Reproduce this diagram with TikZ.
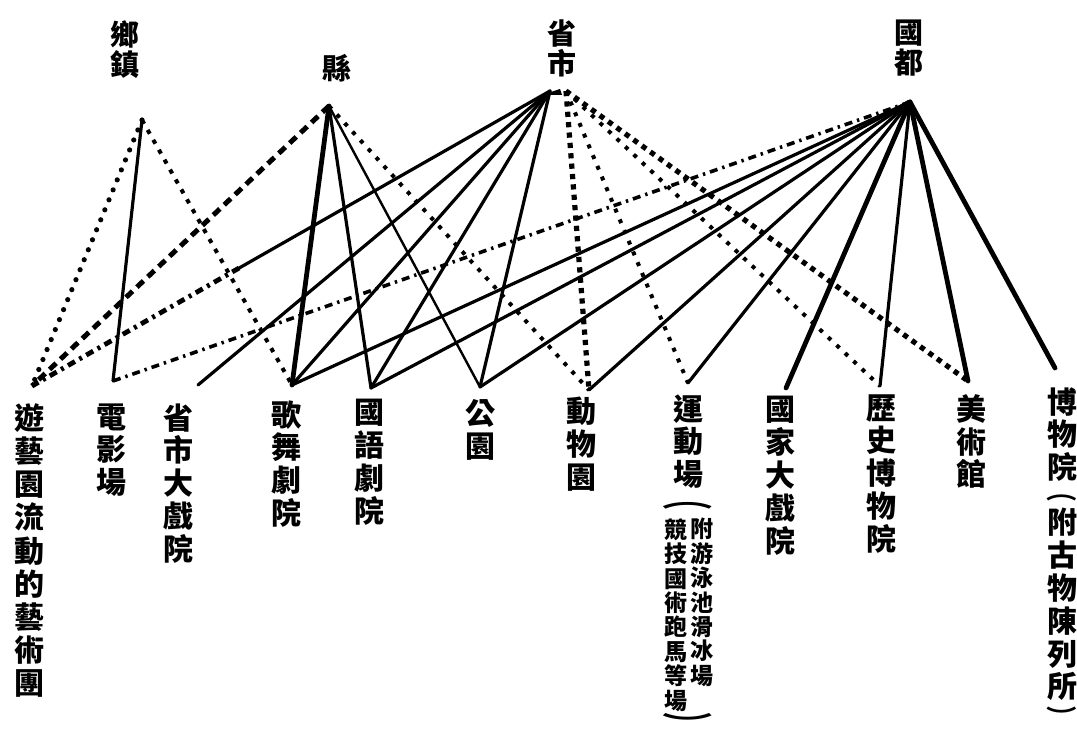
\documentclass[tikz,border=0pt]{standalone}
\usepackage{fontspec}
\newfontfamily\cjk{Noto Sans CJK TC}
\usetikzlibrary{calc}
\tikzset{
  toplbl/.style={font=\cjk\bfseries\fontsize{14.5}{15}\selectfont, align=center, inner sep=0pt},
  lbl/.style={font=\cjk\bfseries\fontsize{15}{16.4}\selectfont, align=center, inner sep=0pt, anchor=north},
  sublbl/.style={font=\cjk\bfseries\fontsize{11.5}{12.2}\selectfont, align=center, inner sep=0pt, anchor=north},
  parlbl/.style={font=\cjk\bfseries\fontsize{9}{9}\selectfont, inner sep=0pt},
  solidln/.style={line width=1.6pt, line cap=round},
  thinln/.style={line width=1.2pt, line cap=round},
  heavyln/.style={line width=2.4pt, line cap=round},
  dotround/.style={line width=2.6pt, line cap=round, dash pattern=on 0pt off 5.4pt},
  dotshort/.style={line width=2.0pt, dash pattern=on 2.2pt off 3.5pt},
  dashheavy/.style={line width=2.5pt, dash pattern=on 4.5pt off 3pt},
  dotsq/.style={line width=2.6pt, dash pattern=on 2.6pt off 2.6pt},
  dotsm/.style={line width=2.0pt, dash pattern=on 2pt off 3.8pt},
  dashdotln/.style={line width=1.8pt, dash pattern=on 4pt off 2.5pt on 1.2pt off 2.5pt},
  dashdotheavy/.style={line width=2.4pt, dash pattern=on 4pt off 2.5pt on 1.5pt off 2.5pt},
}
\begin{document}
\begin{tikzpicture}[x=0.5pt,y=-0.5pt]
\useasboundingbox (0,0) rectangle (1077,732);

% top levels
\node[toplbl] (xz) at (125,50) {鄉\\鎮};
\node[toplbl] (xian) at (337,68) {縣};
\node[toplbl] (sheng) at (562,48) {省\\市};
\node[toplbl] (guo) at (909,48) {國\\都};

% apex points
\coordinate (p1) at (142,120);
\coordinate (p2) at (329,106);
\coordinate (p3) at (550,91);
\coordinate (p3r) at (566,91);
\coordinate (p4) at (910,102);

% bottom labels
\node[lbl, font=\cjk\bfseries\fontsize{15}{16.6}\selectfont] (tA) at (29,403) {遊\\藝\\園\\流\\動\\的\\藝\\術\\團};
\node[lbl] (tB) at (111,403) {電\\影\\場};
\node[lbl] (tC) at (178,403) {省\\市\\大\\戲\\院};
\node[lbl] (tD) at (286,400) {歌\\舞\\劇\\院};
\node[lbl] (tE) at (369,399) {國\\語\\劇\\院};
\node[lbl] (tF) at (480,399) {公\\園};
\node[lbl] (tG) at (581,397) {動\\物\\園};
\node[lbl] (tH) at (688,394) {運\\動\\場};
\node[parlbl] (hOpen) at (688,506) {\scalebox{2.8}[1.2]{︵}};
\node[sublbl] (hL) at (676,518) {競\\技\\國\\術\\跑\\馬\\等\\場};
\node[sublbl] (hR) at (702,518) {附\\游\\泳\\池\\滑\\冰\\場};
\node[parlbl] (hClose) at (688,722) {\scalebox{2.8}[1.2]{︶}};
\node[lbl] (tI) at (780,396) {國\\家\\大\\戲\\院};
\node[lbl] (tJ) at (881,394) {歷\\史\\博\\物\\院};
\node[lbl] (tK) at (971,394) {美\\術\\館};
\node[lbl] (tL) at (1062,387) {博\\物\\院};
\node[parlbl] (lOpen) at (1062,498) {\scalebox{1.7}[1.1]{︵}};
\node[lbl] (tL2) at (1062,508) {附\\古\\物\\陳\\列\\所};
\node[parlbl] (lClose) at (1062,715) {\scalebox{1.7}[1.1]{︶}};

% end points of connectors
\coordinate (eA) at (32,386);
\coordinate (eB) at (113,381);
\coordinate (eC) at (198,385);
\coordinate (eD) at (292,385);
\coordinate (eE) at (371,388);
\coordinate (eF) at (480,387);
\coordinate (eG) at (589,390);
\coordinate (eH) at (688,383);
\coordinate (eI) at (786,388);
\coordinate (eJ) at (880,386);
\coordinate (eK) at (968,381);
\coordinate (eL) at (1055,368);

% 鄉鎮
\draw[dotround] (p1) -- (eA);
\draw[solidln] (p1) -- (eB);
\draw[dotshort] (p1) -- (eD);

% 縣
\draw[dashheavy] (p2) -- (eA);
\draw[heavyln] (p2) -- (eD);
\draw[solidln] (p2) -- (eE);
\draw[thinln] (p2) -- (eF);
\draw[dotsm] (p2) -- (eG);

% 省市
\coordinate (mA) at ($(p3)!0.6!(eA)$);
\draw[solidln] (p3) -- (mA);
\draw[dashdotheavy] (mA) -- (eA);
\draw[solidln] (p3) -- (eC);
\draw[solidln] (p3) -- (eD);
\draw[solidln] (p3) -- (eE);
\draw[solidln] (p3) -- (eF);
\draw[dotsq] (p3r) -- (eG);
\draw[dotsm] (p3r) -- (eH);
\draw[dotsm] (p3r) -- (eJ);
\draw[dotsq] (p3r) -- (eK);
\fill (p3) ++(-8,4) -- ++(18,-6) -- ++(2,6) -- cycle;

% 國都
\draw[dashdotln] (p4) -- (eB);
\draw[solidln] (p4) -- (eD);
\draw[solidln] (p4) -- (eE);
\draw[solidln] (p4) -- (eF);
\draw[solidln] (p4) -- (eG);
\draw[solidln] (p4) -- (eH);
\draw[heavyln] (p4) -- (eI);
\draw[solidln] (p4) -- (eJ);
\draw[heavyln] (p4) -- (eK);
\draw[heavyln] (p4) -- (eL);
\fill (p4) ++(-25,12) -- ++(23,-14) -- ++(5,4) -- cycle;
\end{tikzpicture}
\end{document}
